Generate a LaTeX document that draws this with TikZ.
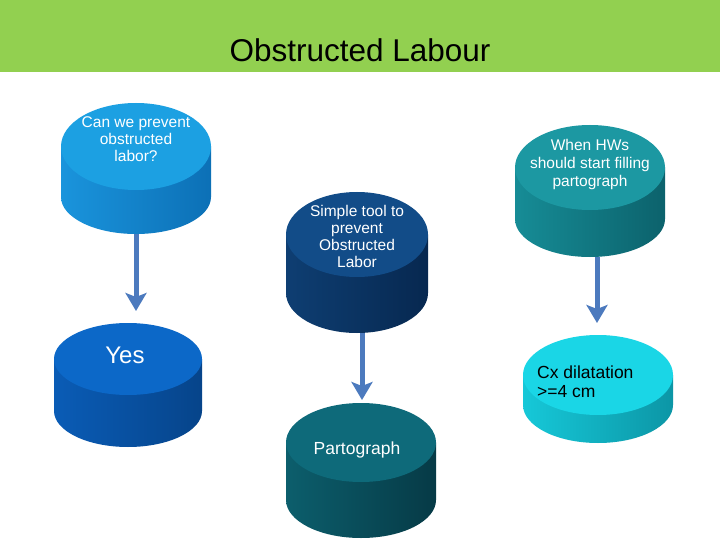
\documentclass[tikz,border=0pt]{standalone}
\usepackage{fontspec}
\setmainfont{Liberation Sans}
\usetikzlibrary{arrows.meta}
\definecolor{hdrgreen}{RGB}{146,208,80}
\definecolor{arrowblue}{RGB}{76,122,190}
% cylinder colours
\definecolor{aTop}{RGB}{28,160,226}\definecolor{aL}{RGB}{26,148,220}\definecolor{aR}{RGB}{12,112,182}
\definecolor{bTop}{RGB}{12,104,200}\definecolor{bL}{RGB}{10,92,182}\definecolor{bR}{RGB}{6,68,138}
\definecolor{cTop}{RGB}{18,76,136}\definecolor{cL}{RGB}{14,62,114}\definecolor{cR}{RGB}{7,40,80}
\definecolor{dTop}{RGB}{28,152,162}\definecolor{dL}{RGB}{22,140,150}\definecolor{dR}{RGB}{12,98,108}
\definecolor{eTop}{RGB}{26,214,230}\definecolor{eL}{RGB}{22,200,216}\definecolor{eR}{RGB}{12,150,166}
\definecolor{fTop}{RGB}{14,106,122}\definecolor{fL}{RGB}{12,94,108}\definecolor{fR}{RGB}{6,58,70}
% #1 cx, #2 top-centre y, #3 side height, #4 top ry, #5 rx, #6 top, #7 side left, #8 side right, #9 bottom ry
\newcommand{\drumshape}[9]{%
  \shade[left color=#7, right color=#8]
    (#1-#5,#2) -- (#1-#5,#2+#3)
    arc[start angle=180, end angle=360, x radius=#5pt, y radius=#9pt]
    -- (#1+#5,#2) -- cycle;
  \fill[#6] (#1,#2) ellipse [x radius=#5pt, y radius=#4pt];
}
\tikzset{
  lbl/.style={inner sep=0pt, align=center, text=white, font=\fontsize{15.5}{17}\selectfont},
  flow/.style={line width=5pt, arrowblue, -{Stealth[length=18pt, width=21pt, inset=4pt]}}
}
\begin{document}
\begin{tikzpicture}[x=1pt, y=-1pt]
\useasboundingbox (0,0) rectangle (720,540);
\fill[white] (0,0) rectangle (720,540);
\fill[hdrgreen] (0,0) rectangle (720,72);
\node[inner sep=0pt, font=\fontsize{31.5}{34}\selectfont] (title) at (360,50) {Obstructed Labour};

% cylinders
\drumshape{136}{146.5}{50.5}{43.5}{75}{aTop}{aL}{aR}{37}
\drumshape{128}{359}{52}{36}{74}{bTop}{bL}{bR}{36}
\drumshape{357}{234.5}{58.5}{42.5}{71}{cTop}{cL}{cR}{40}
\drumshape{590}{167.5}{51.5}{42.5}{75}{dTop}{dL}{dR}{38}
\drumshape{598}{375}{30}{40}{75}{eTop}{eL}{eR}{38}
\drumshape{361}{442.5}{57.5}{39.5}{75}{fTop}{fL}{fR}{38}

% texts
\node[lbl] (q1) at (136,139) {Can we prevent\\obstructed\\labor?};
\node[lbl, font=\fontsize{24}{26}\selectfont] (yes) at (125,355) {Yes};
\node[lbl] (tool) at (357,236.5) {Simple tool to\\prevent\\Obstructed\\Labor};
\node[lbl, font=\fontsize{15.5}{18}\selectfont] (hws) at (590,164) {When HWs\\should start filling\\partograph};
\node[lbl, anchor=west, align=left, text=black, font=\fontsize{17.5}{19.5}\selectfont] (cx) at (537,381.5) {Cx dilatation\\>=4 cm};
\node[lbl, font=\fontsize{17.5}{19}\selectfont] (parto) at (357,450) {Partograph};

% connector end points
\coordinate (q1b) at (136,234);
\coordinate (yest) at (136,311);
\coordinate (hwsb) at (597,257);
\coordinate (cxt) at (597,323);
\coordinate (toolb) at (362,333);
\coordinate (partot) at (362,400);

\draw[flow] (q1b) -- (yest);
\draw[flow] (hwsb) -- (cxt);
\draw[flow] (toolb) -- (partot);
\end{tikzpicture}
\end{document}
